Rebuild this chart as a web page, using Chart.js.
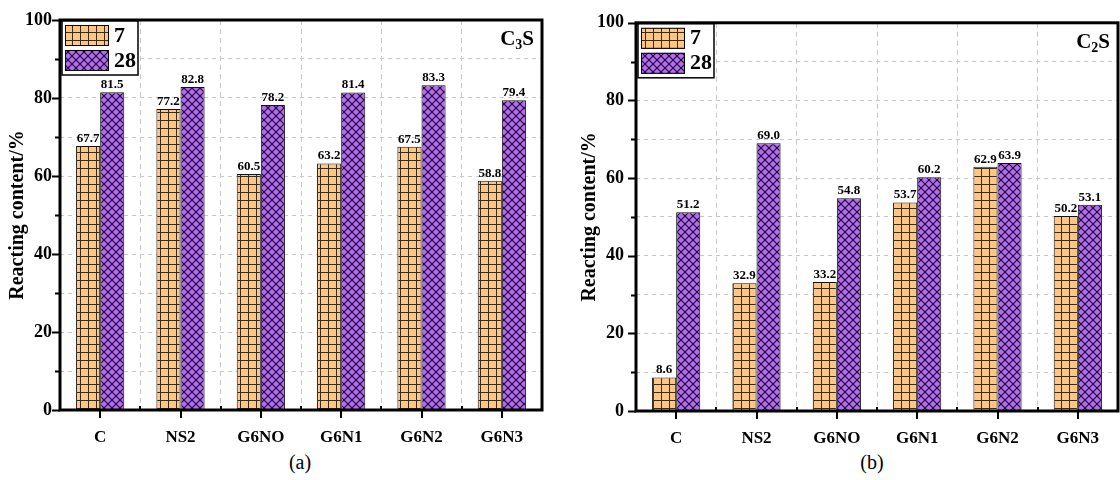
<!DOCTYPE html>
<html>
<head>
<meta charset="utf-8">
<script src="https://cdn.jsdelivr.net/npm/chart.js@4.4.1/dist/chart.umd.min.js"></script>
<style>
  body { margin: 0; background: #fff; width: 1120px; height: 480px; position: relative; overflow: hidden; font-family: "Liberation Serif", "Times New Roman", serif; }
  canvas { position: absolute; top: 0; }
  #chartA { left: 0; }
  #chartB { left: 565px; }
  .cap { position: absolute; top: 451px; font-size: 20px; width: 60px; text-align: center; }
</style>
</head>
<body>
<canvas id="chartA" width="555" height="450"></canvas>
<canvas id="chartB" width="555" height="450"></canvas>
<div class="cap" style="left:270px">(a)</div>
<div class="cap" style="left:842px">(b)</div>
<script>
const categories = ['C', 'NS2', 'G6NO', 'G6N1', 'G6N2', 'G6N3'];
const seriesNames = ['7', '28'];
const c3s7 = [67.7, 77.2, 60.5, 63.2, 67.5, 58.8];
const c3s28 = [81.5, 82.8, 78.2, 81.4, 83.3, 79.4];
const c2s7 = [8.6, 32.9, 33.2, 53.7, 62.9, 50.2];
const c2s28 = [51.2, 69.0, 54.8, 60.2, 63.9, 53.1];
const yTicks = [0, 20, 40, 60, 80, 100];

const FONT = '"Liberation Serif", "Times New Roman", serif';

function gridPattern() {
  const c = document.createElement('canvas');
  c.width = 8; c.height = 8;
  const g = c.getContext('2d');
  g.fillStyle = '#ffc680';
  g.fillRect(0, 0, 8, 8);
  g.fillStyle = '#3a2a1a';
  g.fillRect(0, 0, 8, 1);
  g.fillRect(0, 0, 1, 8);
  return g.createPattern(c, 'repeat');
}

function crossPattern() {
  const c = document.createElement('canvas');
  c.width = 8; c.height = 8;
  const g = c.getContext('2d');
  g.fillStyle = '#b36af5';
  g.fillRect(0, 0, 8, 8);
  g.strokeStyle = '#1a0a24';
  g.lineWidth = 1.1;
  g.beginPath();
  g.moveTo(-1, -1); g.lineTo(9, 9);
  g.moveTo(9, -1); g.lineTo(-1, 9);
  g.stroke();
  return g.createPattern(c, 'repeat');
}

const orangeFill = gridPattern();
const purpleFill = crossPattern();

// frame, ticks, value labels, legend and the phase title
const framePlugin = {
  id: 'frame',
  afterDraw(chart, args, opts) {
    const ctx = chart.ctx;
    const a = chart.chartArea;
    const x = chart.scales.x, y = chart.scales.y;
    ctx.save();

    // value labels
    ctx.fillStyle = '#000';
    ctx.font = 'bold 13px ' + FONT;
    ctx.textAlign = 'center';
    ctx.textBaseline = 'bottom';
    chart.data.datasets.forEach((ds, i) => {
      chart.getDatasetMeta(i).data.forEach((bar, j) => {
        ctx.fillText(ds.data[j].toFixed(1), bar.x, bar.y - 1);
      });
    });

    // ticks
    ctx.strokeStyle = '#000';
    ctx.lineWidth = 2;
    ctx.beginPath();
    for (let v = 0; v <= 100; v += 10) {
      const py = Math.round(y.getPixelForValue(v)) + 0.5;
      const len = yTicks.includes(v) ? 7 : 4;
      ctx.moveTo(a.left - 1 - len, py);
      ctx.lineTo(a.left, py);
    }
    categories.forEach((c, i) => {
      const px = Math.round(x.getPixelForValue(i));
      ctx.moveTo(px, a.bottom);
      ctx.lineTo(px, a.bottom + 8);
      if (i > 0) {
        const bx = Math.round((x.getPixelForValue(i) + x.getPixelForValue(i - 1)) / 2);
        ctx.moveTo(bx, a.bottom);
        ctx.lineTo(bx, a.bottom - 4);
      }
    });
    ctx.stroke();

    // frame
    ctx.lineWidth = 3;
    ctx.strokeRect(a.left, a.top, a.right - a.left, a.bottom - a.top);

    // legend
    const lx = a.left + 2, ly = a.top + 1;
    ctx.fillStyle = '#fff';
    ctx.fillRect(lx, ly, 76, 54);
    ctx.lineWidth = 1.5;
    ctx.strokeRect(lx, ly, 76, 54);
    [orangeFill, purpleFill].forEach((f, i) => {
      const py = ly + 4 + i * 25;
      ctx.fillStyle = f;
      ctx.fillRect(lx + 3, py, 44, 21);
      ctx.lineWidth = 1;
      ctx.strokeRect(lx + 3.5, py + 0.5, 43, 20);
      ctx.fillStyle = '#000';
      ctx.font = 'bold 22px ' + FONT;
      ctx.textAlign = 'left';
      ctx.textBaseline = 'middle';
      ctx.fillText(seriesNames[i], lx + 52, py + 11);
    });

    // phase title, e.g. C3S
    ctx.font = 'bold 21px ' + FONT;
    ctx.textBaseline = 'alphabetic';
    ctx.textAlign = 'left';
    const base = a.top + 25;
    const wC = ctx.measureText('C').width;
    const wS = ctx.measureText('S').width;
    ctx.font = 'bold 14px ' + FONT;
    const wSub = ctx.measureText(opts.sub).width;
    let tx = a.right - 8 - wC - wSub - wS;
    ctx.font = 'bold 21px ' + FONT;
    ctx.fillText('C', tx, base);
    ctx.font = 'bold 14px ' + FONT;
    ctx.fillText(opts.sub, tx + wC, base + 4);
    ctx.font = 'bold 21px ' + FONT;
    ctx.fillText('S', tx + wC + wSub, base);

    ctx.restore();
  }
};

function buildChart(id, d7, d28, o) {
  const tickFont = { family: FONT, size: 18, weight: 'bold' };
  return new Chart(document.getElementById(id), {
    type: 'bar',
    data: {
      labels: categories,
      datasets: [
        { label: seriesNames[0], data: d7, backgroundColor: orangeFill, borderColor: '#111', borderWidth: 1,
          categoryPercentage: 0.6, barPercentage: 1.0 },
        { label: seriesNames[1], data: d28, backgroundColor: purpleFill, borderColor: '#111', borderWidth: 1,
          categoryPercentage: 0.6, barPercentage: 1.0 },
      ]
    },
    options: {
      responsive: false,
      animation: false,
      layout: { padding: { top: o.top, right: o.right, left: 0, bottom: 0 } },
      plugins: {
        legend: { display: false },
        tooltip: { enabled: false },
        frame: { sub: o.sub },
      },
      scales: {
        x: {
          grid: { offset: true, color: '#c8c8c8', drawTicks: false },
          border: { display: false, dash: [5, 4] },
          ticks: { color: '#000', font: { family: FONT, size: 17, weight: 'bold' }, padding: 17 },
          afterFit: s => { s.height = o.xh; },
        },
        y: {
          min: 0,
          max: 100,
          grid: { color: '#c8c8c8', drawTicks: false },
          border: { display: false, dash: [4, 4] },
          ticks: {
            stepSize: 10,
            color: '#000',
            font: tickFont,
            padding: o.tickPad,
            callback: v => (yTicks.includes(v) ? v : ''),
          },
          title: {
            display: true,
            text: 'Reacting content/%',
            color: '#000',
            font: { family: FONT, size: 20, weight: 'bold' },
            padding: { top: o.titlePad, bottom: 0 },
          },
          afterFit: s => { s.width = o.yw; },
        }
      }
    },
    plugins: [framePlugin]
  });
}

buildChart('chartA', c3s7, c3s28, { top: 20, right: 13, xh: 40, yw: 60, tickPad: 8, titlePad: 6, sub: '3' });
buildChart('chartB', c2s7, c2s28, { top: 22, right: 2, xh: 39, yw: 71, tickPad: 12, titlePad: 13, sub: '2' });
</script>
</body>
</html>
